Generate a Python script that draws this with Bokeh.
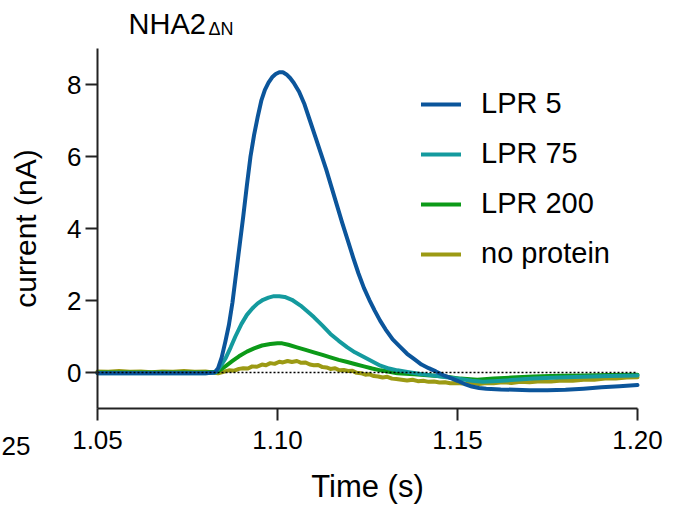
from bokeh.plotting import figure
from bokeh.models import Label, Legend, LegendItem, Range1d, FixedTicker
from bokeh.embed import file_html
from bokeh.resources import INLINE

# ---- data ----
t_lpr5 = [1.050, 1.060, 1.070, 1.080, 1.0825, 1.0835, 1.0845, 1.0855, 1.0865, 1.0875,
          1.0885, 1.0895, 1.0905, 1.0915, 1.0925, 1.0935, 1.0945, 1.0955, 1.0965, 1.0975,
          1.0985, 1.0995, 1.1005, 1.1015, 1.1025, 1.1035, 1.1045, 1.1060, 1.1075, 1.1090,
          1.1105, 1.1120, 1.1135, 1.1150, 1.1165, 1.1180, 1.1195, 1.1210, 1.1225, 1.1240,
          1.1255, 1.1270, 1.1285, 1.1300, 1.1320, 1.1340, 1.1360, 1.1380, 1.1400, 1.1420,
          1.1440, 1.1460, 1.1480, 1.1500, 1.1520, 1.1540, 1.1560, 1.1580, 1.1620, 1.1660,
          1.1700, 1.1750, 1.1800, 1.1850, 1.1900, 1.1950, 1.2000]
v_lpr5 = [-0.02, -0.02, -0.02, -0.02, 0.0, 0.12, 0.42, 0.85, 1.32, 1.95,
          2.75, 3.55, 4.35, 5.2, 6.0, 6.6, 7.1, 7.55, 7.85, 8.05,
          8.2, 8.29, 8.34, 8.34, 8.28, 8.18, 8.05, 7.8, 7.45, 7.0,
          6.55, 6.1, 5.65, 5.15, 4.65, 4.15, 3.68, 3.2, 2.75, 2.35,
          2.02, 1.72, 1.44, 1.2, 0.92, 0.72, 0.52, 0.37, 0.22, 0.12,
          0.03, -0.07, -0.15, -0.23, -0.32, -0.39, -0.43, -0.45, -0.47, -0.48,
          -0.49, -0.49, -0.48, -0.45, -0.41, -0.38, -0.35]

t_lpr75 = [1.050, 1.070, 1.080, 1.0828, 1.0840, 1.0856, 1.0870, 1.0883, 1.0900, 1.0915,
           1.0930, 1.0945, 1.0960, 1.0975, 1.0990, 1.1005, 1.1020, 1.1040, 1.1064, 1.1085,
           1.1101, 1.1125, 1.1147, 1.1170, 1.1194, 1.1215, 1.1240, 1.1265, 1.1286, 1.1310,
           1.1333, 1.1365, 1.1397, 1.1430, 1.1470, 1.1508, 1.1540, 1.1570, 1.1600, 1.1650,
           1.1711, 1.1780, 1.1850, 1.1920, 1.2000]
v_lpr75 = [-0.02, -0.02, -0.02, 0.0, 0.15, 0.4, 0.7, 1.0, 1.35, 1.6,
           1.78, 1.92, 2.02, 2.08, 2.12, 2.12, 2.1, 2.02, 1.86, 1.68,
           1.54, 1.3, 1.07, 0.88, 0.70, 0.56, 0.43, 0.3, 0.19, 0.11,
           0.06, 0.01, -0.04, -0.08, -0.13, -0.18, -0.23, -0.26, -0.24, -0.21,
           -0.17, -0.14, -0.12, -0.10, -0.08]

t_lpr200 = [1.050, 1.070, 1.080, 1.0833, 1.0845, 1.0856, 1.0875, 1.0893, 1.0915, 1.0935,
            1.0957, 1.0980, 1.1000, 1.1013, 1.1030, 1.1054, 1.1078, 1.1101, 1.1125, 1.1147,
            1.1170, 1.1194, 1.1217, 1.1240, 1.1263, 1.1286, 1.1310, 1.1333, 1.1380, 1.1425,
            1.1470, 1.1508, 1.1555, 1.1600, 1.1650, 1.1711, 1.1780, 1.1850, 1.1920, 1.2000]
v_lpr200 = [0.0, 0.0, 0.0, 0.02, 0.1, 0.18, 0.32, 0.45, 0.58, 0.67,
            0.75, 0.79, 0.81, 0.81, 0.77, 0.70, 0.63, 0.56, 0.49, 0.42,
            0.35, 0.29, 0.23, 0.17, 0.11, 0.06, 0.02, -0.02, -0.05, -0.08,
            -0.12, -0.17, -0.2, -0.17, -0.14, -0.11, -0.09, -0.08, -0.07, -0.06]

t_noprot = [1.050, 1.053, 1.056, 1.059, 1.062, 1.065, 1.068, 1.071, 1.074, 1.077,
            1.080, 1.082, 1.0835, 1.0850, 1.0865, 1.0880, 1.0893, 1.0905, 1.0918, 1.0930,
            1.0943, 1.0957, 1.0968, 1.0980, 1.0992, 1.1005, 1.1015, 1.1028, 1.1040, 1.1054,
            1.1066, 1.1078, 1.1090, 1.1101, 1.1113, 1.1125, 1.1136, 1.1147, 1.1160, 1.1172,
            1.1184, 1.1196, 1.1208, 1.1220, 1.1232, 1.1244, 1.1256, 1.1268, 1.1280, 1.1292,
            1.1305, 1.1318, 1.1330, 1.1345, 1.1360, 1.1375, 1.1390, 1.1405, 1.1420, 1.1435,
            1.1450, 1.1465, 1.1480, 1.1500, 1.1520, 1.1540, 1.1560, 1.1580, 1.1600, 1.1625,
            1.1650, 1.1675, 1.1700, 1.1730, 1.1760, 1.1790, 1.1820, 1.1850, 1.1880, 1.1910,
            1.1940, 1.1970, 1.2000]
v_noprot = [0.03, 0.02, 0.04, 0.02, 0.03, 0.01, 0.03, 0.02, 0.04, 0.02,
            0.03, 0.0, -0.02, 0.02, 0.06, 0.05, 0.1, 0.12, 0.11, 0.17,
            0.16, 0.22, 0.2, 0.26, 0.24, 0.3, 0.28, 0.32, 0.29, 0.32,
            0.27, 0.28, 0.22, 0.2, 0.21, 0.15, 0.14, 0.1, 0.12, 0.06,
            0.07, 0.04, 0.05, -0.01, -0.02, -0.06, -0.05, -0.1, -0.11, -0.14,
            -0.12, -0.17, -0.18, -0.2, -0.22, -0.2, -0.24, -0.23, -0.26, -0.25,
            -0.28, -0.27, -0.3, -0.29, -0.31, -0.3, -0.32, -0.29, -0.3, -0.27,
            -0.29, -0.26, -0.27, -0.24, -0.25, -0.22, -0.23, -0.2, -0.2, -0.17,
            -0.17, -0.14, -0.13]

series_names = ["LPR 5", "LPR 75", "LPR 200", "no protein"]
series_colors = ["#0b559b", "#149a9e", "#0c9a18", "#9c9a14"]
x_ticks = [1.05, 1.10, 1.15, 1.20]
x_tick_labels = {1.05: "1.05", 1.10: "1.10", 1.15: "1.15", 1.20: "1.20"}
y_ticks = [0, 2, 4, 6, 8]
x_axis_span = (1.05, 1.20)
y_axis_span = (-1, 9)
zero_level = [0, 0]

FONT = "Liberation Sans"

# The frame fills the whole canvas (36 px per 0.01 s and per nA);
# the axes are drawn at fixed locations inside it.
W, H = 682, 506
PX_X = 3600.0   # px per second
PX_Y = 36.0     # px per nA
x0 = x_axis_span[0] - 97 / PX_X
x1 = x0 + W / PX_X
y1 = y_axis_span[0] + 408 / PX_Y
y0 = y1 - H / PX_Y

p = figure(width=W, height=H, output_backend="svg", toolbar_location=None,
           x_range=Range1d(x0, x1), y_range=Range1d(y0, y1),
           min_border_left=0, min_border_right=0, min_border_top=0, min_border_bottom=0)
p.outline_line_color = None
p.grid.visible = False
p.background_fill_color = "white"
p.border_fill_color = "white"

for ax in (p.xaxis[0], p.yaxis[0]):
    ax.axis_line_color = "#222222"
    ax.axis_line_width = 2
    ax.major_tick_line_color = "#222222"
    ax.major_tick_line_width = 2
    ax.major_tick_out = 12
    ax.major_tick_in = 0
    ax.minor_tick_line_color = None
    ax.major_label_text_font = FONT
    ax.major_label_text_font_size = "26px"
    ax.major_label_text_color = "black"
    ax.axis_label_text_font = FONT
    ax.axis_label_text_font_size = "30px"
    ax.axis_label_text_font_style = "normal"
    ax.axis_label_text_color = "black"

p.xaxis[0].ticker = FixedTicker(ticks=x_ticks)
p.xaxis[0].major_label_overrides = x_tick_labels
p.xaxis[0].axis_label = "Time (s)"
p.xaxis[0].axis_label_text_font_size = "31px"
p.xaxis[0].fixed_location = y_axis_span[0]
p.xaxis[0].bounds = x_axis_span
p.xaxis[0].major_label_standoff = 10
p.xaxis[0].axis_label_standoff = 17

p.yaxis[0].ticker = FixedTicker(ticks=y_ticks)
p.yaxis[0].axis_label = "current (nA)"
p.yaxis[0].fixed_location = x_axis_span[0]
p.yaxis[0].bounds = y_axis_span
p.yaxis[0].major_label_standoff = 4
p.yaxis[0].axis_label_standoff = 22

ts = [t_lpr5, t_lpr75, t_lpr200, t_noprot]
vs = [v_lpr5, v_lpr75, v_lpr200, v_noprot]
renderers = {}
for i in [3, 2, 1, 0]:
    r = p.line(ts[i], vs[i], line_color=series_colors[i], line_width=4,
               line_join="round", line_cap="round")
    renderers[i] = r

# dotted zero line across the plotted time span
p.line(list(x_axis_span), zero_level, line_color="black", line_width=1.5, line_dash="2 2")

legend = Legend(items=[LegendItem(label=series_names[i], renderers=[renderers[i]]) for i in range(4)],
                location=(421, 236), orientation="vertical")
legend.label_text_font = FONT
legend.label_text_font_size = "29px"
legend.label_text_color = "black"
legend.glyph_width = 40
legend.glyph_height = 30
legend.label_height = 30
legend.spacing = 17
legend.label_standoff = 20
legend.padding = 0
legend.margin = 0
legend.border_line_color = None
legend.background_fill_alpha = 0
p.add_layout(legend, "center")

title_main = Label(x=x0 + 128 / PX_X, y=y1 - 23 / PX_Y, text="NHA2", text_font=FONT,
                   text_font_size="29px", text_color="black",
                   text_baseline="alphabetic", text_align="left")
title_sub = Label(x=x0 + 208 / PX_X, y=y1 - 28 / PX_Y, text="ΔN", text_font=FONT,
                  text_font_size="18px", text_color="black",
                  text_baseline="alphabetic", text_align="left")
p.add_layout(title_main)
p.add_layout(title_sub)

# fragment of the neighbouring panel's tick label at the left edge
stray = Label(x=x0 + 1 / PX_X, y=y1 - 445 / PX_Y, text="25", text_font=FONT,
              text_font_size="26px", text_color="black",
              text_baseline="alphabetic", text_align="left")
p.add_layout(stray)

open("out.html", "w").write(file_html(p, INLINE))
